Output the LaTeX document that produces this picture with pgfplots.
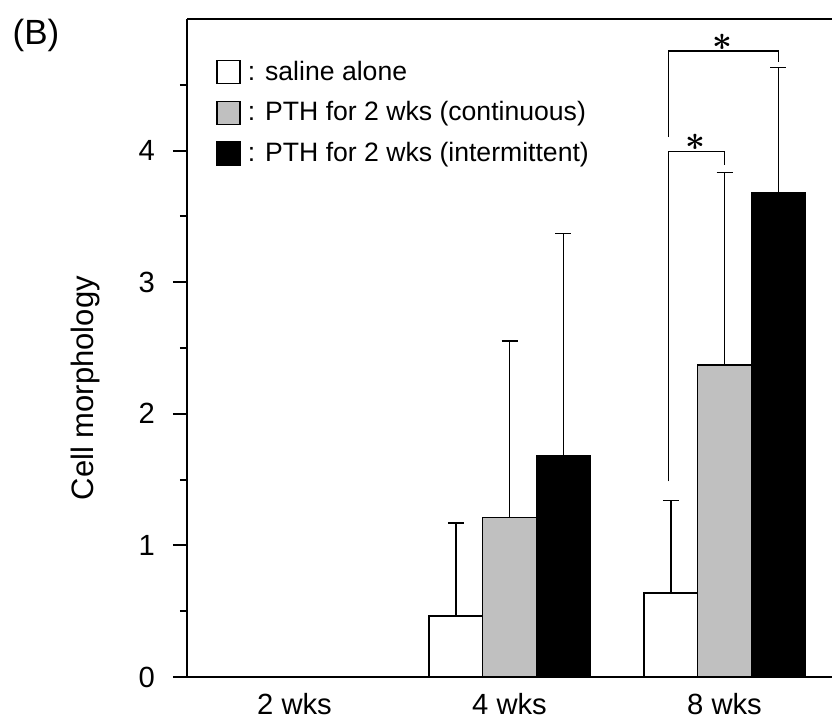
\documentclass[border=0pt]{standalone}
\usepackage{fontspec}
\setmainfont{Liberation Sans}
\usepackage{pgfplots}
\pgfplotsset{compat=1.18}
\definecolor{barGray}{RGB}{192,192,192}
\pgfplotsset{
  mybar/.style={ybar, bar width=0.25, bar shift=0pt, draw=black, line width=0.75pt,
    legend image code/.code={\draw[line width=0.75pt,##1] (0pt,-5.75pt) rectangle (11.5pt,5.75pt);},
    error bars/y dir=plus, error bars/y explicit,
    error bars/error bar style={line width=0.75pt, black},
    error bars/error mark options={rotate=90, mark size=4pt, line width=0.75pt, black}},
}
\begin{document}
\begin{tikzpicture}
\useasboundingbox (0,0) rectangle (416pt,364pt);
\node[font=\fontsize{17.5}{20}\selectfont, inner sep=0pt] at (18pt,346.5pt) {(B)};
\begin{axis}[
  at={(93.5pt,25.5pt)}, anchor=south west,
  scale only axis, width=322.5pt, height=329pt,
  xmin=-0.5, xmax=2.5, ymin=0, ymax=5,
  clip=false,
  axis x line*=bottom, axis y line*=left,
  axis line style={line width=1pt},
  xtick={0,1,2}, xticklabels={2 wks,4 wks,8 wks},
  x tick style={draw=none},
  ytick={0,1,2,3,4}, minor ytick={0.5,1.5,2.5,3.5,4.5},
  tick align=outside, major tick length=7pt, minor tick length=3.5pt,
  y tick style={line width=1pt, black},
  /pgf/number format/assume math mode=true,
  tick label style={font=\fontsize{14.6}{17}\selectfont},
  yticklabel style={xshift=-5.5pt},
  xticklabel style={inner sep=0pt, anchor=north, yshift=-1pt},
  ylabel={Cell morphology},
  ylabel style={at={(axis description cs:-0.158,0.439)}, anchor=center, font=\fontsize{15.5}{18}\selectfont},
  legend style={draw=none, fill=none, at={(axis description cs:0.045,0.94)}, anchor=north west,
    inner sep=0pt, row sep=7.25pt, column sep=2.5pt, font=\fontsize{13.3}{15}\selectfont,
    nodes={inner sep=1pt}},
  legend cell align=left,
]
\addplot[mybar, fill=white] table[x=x, y=y, y error=e] {
x y e
0.75 0.465 0.705
1.75 0.637 0.703
};
\addlegendentry{: saline alone}
\addplot[mybar, fill=barGray] table[x=x, y=y, y error=e] {
x y e
1.00 1.213 1.341
2.00 2.370 1.465
};
\addlegendentry{: PTH for 2 wks (continuous)}
\addplot[mybar, fill=black] table[x=x, y=y, y error=e] {
x y e
1.25 1.680 1.690
2.25 3.680 0.950
};
\addlegendentry{: PTH for 2 wks (intermittent)}
% significance brackets
\addplot[black, line width=0.7pt, forget plot] coordinates {(1.74,4.103) (1.74,4.758) (2.25,4.758) (2.25,4.674)};
\addplot[black, line width=0.7pt, forget plot] coordinates {(1.74,1.487) (1.74,3.993) (2.0,3.993) (2.0,3.894)};
\node[anchor=base, inner sep=0pt, font=\fontsize{19}{21}\selectfont\boldmath] at (axis cs:1.99,4.76) {$\ast$};
\node[anchor=base, inner sep=0pt, font=\fontsize{19}{21}\selectfont\boldmath] at (axis cs:1.866,3.998) {$\ast$};
\draw[line width=1pt] (rel axis cs:0,1) -- (rel axis cs:1,1);
\end{axis}
\end{tikzpicture}
\end{document}
